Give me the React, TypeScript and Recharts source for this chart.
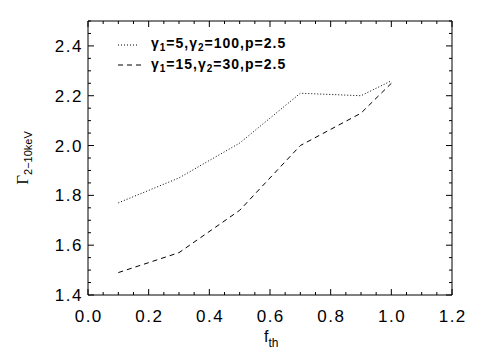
import React from "react";
import { LineChart, Line, XAxis, YAxis, Legend } from "recharts";

const fth = [0.1, 0.3, 0.5, 0.7, 0.9, 1.0];
const gammaA = [1.77, 1.87, 2.01, 2.21, 2.2, 2.26]; // γ1=5, γ2=100
const gammaB = [1.49, 1.57, 1.74, 2.0, 2.13, 2.25]; // γ1=15, γ2=30

const xMajor = [0, 0.2, 0.4, 0.6, 0.8, 1.0, 1.2];
const xTicks = [
  0, 0.05, 0.1, 0.15, 0.2, 0.25, 0.3, 0.35, 0.4, 0.45, 0.5, 0.55, 0.6, 0.65,
  0.7, 0.75, 0.8, 0.85, 0.9, 0.95, 1.0, 1.05, 1.1, 1.15, 1.2,
];
const yMajor = [1.4, 1.6, 1.8, 2.0, 2.2, 2.4];
const yTicks = [
  1.4, 1.45, 1.5, 1.55, 1.6, 1.65, 1.7, 1.75, 1.8, 1.85, 1.9, 1.95, 2.0, 2.05,
  2.1, 2.15, 2.2, 2.25, 2.3, 2.35, 2.4, 2.45, 2.5,
];

const data = fth.map((f, i) => ({ f, a: gammaA[i], b: gammaB[i] }));

const FONT = "'Liberation Sans', Arial, Helvetica, sans-serif";
const isMajor = (v: number, list: number[]) =>
  list.some((m) => Math.abs(m - v) < 1e-6);

const tickText = {
  fontFamily: FONT,
  fontSize: 17,
  letterSpacing: 1.5,
  fill: "#000",
};

// side: where the axis sits; ticks point into the plot
const makeTick = (side: "bottom" | "top" | "left" | "right") => (p: any) => {
  const x = Number(p.x);
  const y = Number(p.y);
  const v = p.payload.value;
  const major = isMajor(v, side === "bottom" || side === "top" ? xMajor : yMajor);
  const len = major ? 6 : 3;
  let d = "";
  if (side === "bottom") d = `M${x},${y}V${y - len}`;
  if (side === "top") d = `M${x},${y}V${y + len}`;
  if (side === "left") d = `M${x},${y}H${x + len}`;
  if (side === "right") d = `M${x},${y}H${x - len}`;
  return (
    <g>
      <path d={d} stroke="#000" strokeWidth={1} fill="none" />
      {major && side === "bottom" && (
        <text x={x + 0.75} y={y + 27} textAnchor="middle" {...tickText}>
          {v.toFixed(1)}
        </text>
      )}
      {major && side === "left" && (
        <text x={x - 5} y={y + 6} textAnchor="end" {...tickText}>
          {v.toFixed(1)}
        </text>
      )}
    </g>
  );
};

const legendText = {
  fontFamily: FONT,
  fontSize: 14,
  fontWeight: 700,
  letterSpacing: 1,
  fill: "#000",
};

const LegendBox = () => (
  <svg width={220} height={48}>
    <line x1={8} x2={28} y1={10} y2={10} stroke="#000" strokeDasharray="1 2" />
    <text x={41} y={13} {...legendText}>
      γ<tspan fontSize={10} dy={3}>1</tspan>
      <tspan dy={-3}>=5,γ</tspan>
      <tspan fontSize={10} dy={3}>2</tspan>
      <tspan dy={-3}>=100,p=2.5</tspan>
    </text>
    <line x1={8} x2={33} y1={30} y2={30} stroke="#000" strokeDasharray="5 4" />
    <text x={41} y={34} {...legendText}>
      γ<tspan fontSize={10} dy={3}>1</tspan>
      <tspan dy={-3}>=15,γ</tspan>
      <tspan fontSize={10} dy={3}>2</tspan>
      <tspan dy={-3}>=30,p=2.5</tspan>
    </text>
  </svg>
);

export default function App() {
  return (
    <div style={{ position: "absolute", left: 0, top: 0, background: "#fff" }}>
      <LineChart
        width={500}
        height={353}
        data={data}
        margin={{ top: 20, right: 47, left: 0, bottom: 0 }}
      >
        <XAxis
          dataKey="f"
          type="number"
          domain={[0, 1.2]}
          ticks={xTicks}
          interval={0}
          height={58}
          tickSize={0}
          tickMargin={0}
          tickLine={false}
          tick={makeTick("bottom")}
          axisLine={{ stroke: "#000" }}
          allowDataOverflow
          label={{
            content: () => (
              <text x={264} y={342} fontFamily={FONT} fontSize={16} fill="#000">
                f
                <tspan fontSize={12} dy={5}>
                  th
                </tspan>
              </text>
            ),
          }}
        />
        <XAxis
          xAxisId="top"
          dataKey="f"
          orientation="top"
          type="number"
          domain={[0, 1.2]}
          ticks={xTicks}
          interval={0}
          height={1}
          tickSize={0}
          tickMargin={0}
          tickLine={false}
          tick={makeTick("top")}
          axisLine={{ stroke: "#000" }}
          allowDataOverflow
        />
        <YAxis
          type="number"
          domain={[1.4, 2.5]}
          ticks={yTicks}
          interval={0}
          width={88}
          tickSize={0}
          tickMargin={0}
          tickLine={false}
          tick={makeTick("left")}
          axisLine={{ stroke: "#000" }}
          allowDataOverflow
          label={{
            content: () => (
              <text
                transform="translate(28,158) rotate(-90)"
                textAnchor="middle"
                fill="#000"
              >
                <tspan fontFamily="'Liberation Serif', serif" fontSize={17}>
                  Γ
                </tspan>
                <tspan fontFamily={FONT} fontSize={11} dy={4}>
                  2−10keV
                </tspan>
              </text>
            ),
          }}
        />
        <YAxis
          yAxisId="right"
          orientation="right"
          type="number"
          domain={[1.4, 2.5]}
          ticks={yTicks}
          interval={0}
          width={1}
          tickSize={0}
          tickMargin={0}
          tickLine={false}
          tick={makeTick("right")}
          axisLine={{ stroke: "#000" }}
          allowDataOverflow
        />
        <Legend
          layout="horizontal"
          verticalAlign="middle"
          content={LegendBox}
          wrapperStyle={{ position: "absolute", left: 110, top: 35, width: 220 }}
        />
        <Line
          dataKey="a"
          name="γ1=5,γ2=100,p=2.5"
          stroke="#000"
          strokeWidth={1}
          strokeDasharray="1 2"
          dot={false}
          isAnimationActive={false}
        />
        <Line
          dataKey="b"
          name="γ1=15,γ2=30,p=2.5"
          stroke="#000"
          strokeWidth={1}
          strokeDasharray="5 4"
          dot={false}
          isAnimationActive={false}
        />
        {/* carries the mirrored top/right axes of the frame */}
        <Line
          xAxisId="top"
          yAxisId="right"
          dataKey="a"
          stroke="none"
          dot={false}
          activeDot={false}
          legendType="none"
          isAnimationActive={false}
        />
      </LineChart>
    </div>
  );
}
